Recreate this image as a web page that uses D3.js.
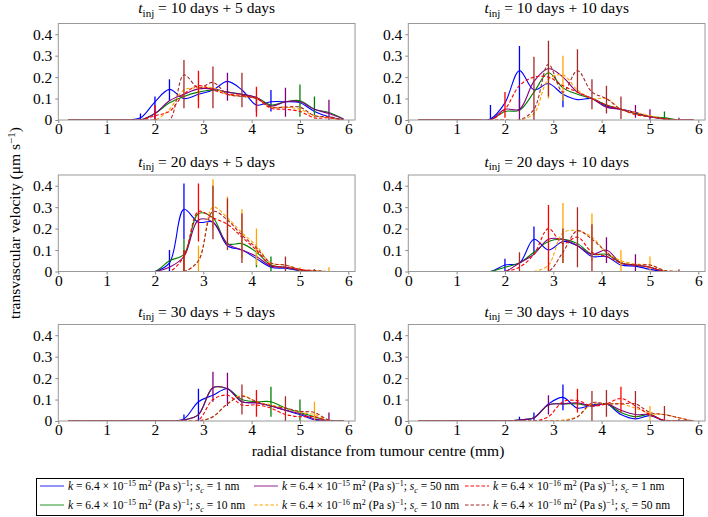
<!DOCTYPE html>
<html>
<head>
<meta charset="utf-8">
<script src="https://cdn.jsdelivr.net/npm/d3@7"></script>
<style>
  html, body { margin: 0; padding: 0; background: #fff; }
  svg { display: block; }
  text { font-family: "Liberation Serif", "Times New Roman", serif; fill: #000; }
</style>
</head>
<body>
<svg id="chart" width="708" height="517"></svg>
<script>
// ---------------- DATA ----------------
const xGrid = [0.2,0.5,0.8,1.1,1.4,1.7,2.0,2.3,2.6,2.9,3.2,3.5,3.8,4.1,4.4,4.7,5.0,5.3,5.6,5.9];
const xTicks = [0,1,2,3,4,5,6];
const yTicks = [0,0.1,0.2,0.3,0.4];
const yTickLabels = ["0","0.1","0.2","0.3","0.4"];

const seriesColors = ["#0000ff","#008000","#800080","#ffa500","#ff0000","#a52a2a"];
const seriesDashed = [false,false,false,true,true,true];
const seriesK = ["−15","−15","−15","−16","−16","−16"];
const seriesSc = ["1 nm","10 nm","50 nm","10 nm","1 nm","50 nm"];

const panelTitles = [
  ["10 days + 5 days","10 days + 10 days"],
  ["20 days + 5 days","20 days + 10 days"],
  ["30 days + 5 days","30 days + 10 days"]
];

// series order: blue, green, purple, orange(dash), red(dash), brown(dash)
const v10_5 = [
  [0,0,0,0,0,0.01,0.085,0.143,0.10,0.12,0.14,0.18,0.14,0.07,0.085,0.085,0.08,0.04,0.015,0],
  [0,0,0,0,0,0,0.03,0.08,0.11,0.13,0.14,0.13,0.12,0.105,0.07,0.085,0.09,0.05,0.035,0.005],
  [0,0,0,0,0,0,0.03,0.09,0.12,0.145,0.145,0.13,0.12,0.105,0.065,0.085,0.085,0.05,0.03,0.005],
  [0,0,0,0,0,0,0,0.05,0.14,0.15,0.15,0.12,0.11,0.1,0.06,0.06,0.05,0.02,0.01,0],
  [0,0,0,0,0,0,0.02,0.04,0.12,0.16,0.14,0.12,0.115,0.1,0.055,0.05,0.04,0.01,0.01,0],
  [0,0,0,0,0,0,0,0,0.21,0.15,0.175,0.12,0.11,0.1,0.06,0.06,0.06,0.02,0.015,0]
];
const v10_10 = [
  [0,0,0,0,0,0.005,0.08,0.23,0.14,0.17,0.12,0.095,0.1,0.065,0.05,0.035,0.015,0.005,0,0],
  [0,0,0,0,0,0,0.04,0.045,0.13,0.22,0.15,0.12,0.1,0.07,0.05,0.03,0.015,0.01,0,0],
  [0,0,0,0,0,0,0.05,0.05,0.18,0.24,0.2,0.13,0.1,0.06,0.05,0.035,0.015,0.005,0,0],
  [0,0,0,0,0,0,0,0,0.03,0.19,0.21,0.14,0.1,0.1,0.05,0.035,0.02,0.005,0,0],
  [0,0,0,0,0,0,0.05,0.16,0.2,0.2,0.16,0.13,0.1,0.07,0.05,0.025,0.015,0.005,0,0],
  [0,0,0,0,0,0,0,0,0.05,0.26,0.13,0.23,0.13,0.1,0.05,0.03,0.015,0.005,0,0]
];
const v20_5 = [
  [0,0,0,0,0,0,0,0.04,0.29,0.23,0.23,0.12,0.1,0.06,0.02,0.015,0.005,0,0,0],
  [0,0,0,0,0,0,0,0.05,0.08,0.27,0.25,0.13,0.13,0.09,0.03,0.02,0.005,0,0,0],
  [0,0,0,0,0,0,0,0.02,0.07,0.24,0.23,0.13,0.1,0.07,0.025,0.02,0.005,0,0,0],
  [0,0,0,0,0,0,0,0,0,0.05,0.3,0.25,0.18,0.12,0.04,0.03,0.01,0.005,0,0],
  [0,0,0,0,0,0,0,0,0.07,0.28,0.25,0.22,0.16,0.1,0.03,0.02,0.01,0,0,0],
  [0,0,0,0,0,0,0,0,0,0.05,0.28,0.24,0.17,0.11,0.04,0.03,0.01,0.005,0,0]
];
const v20_10 = [
  [0,0,0,0,0,0,0.03,0.04,0.15,0.1,0.14,0.12,0.07,0.07,0.03,0.025,0.01,0,0,0],
  [0,0,0,0,0,0,0.02,0.04,0.09,0.14,0.15,0.13,0.08,0.08,0.04,0.03,0.02,0,0,0],
  [0,0,0,0,0,0,0,0.04,0.08,0.15,0.15,0.12,0.08,0.1,0.04,0.03,0.02,0,0,0],
  [0,0,0,0,0,0,0,0,0,0.03,0.18,0.19,0.16,0.09,0.05,0.035,0.03,0.005,0,0],
  [0,0,0,0,0,0,0,0.02,0.08,0.2,0.13,0.16,0.09,0.07,0.04,0.03,0.02,0,0,0],
  [0,0,0,0,0,0,0,0,0,0,0.09,0.19,0.15,0.09,0.04,0.03,0.03,0.005,0,0]
];
const v30_5 = [
  [0,0,0,0,0,0,0,0,0.01,0.09,0.12,0.15,0.09,0.085,0.07,0.05,0.03,0.005,0,0],
  [0,0,0,0,0,0,0,0,0.005,0.03,0.155,0.15,0.1,0.09,0.09,0.06,0.04,0.02,0,0],
  [0,0,0,0,0,0,0,0,0.005,0.03,0.155,0.15,0.09,0.085,0.07,0.05,0.035,0.01,0,0],
  [0,0,0,0,0,0,0,0,0,0,0.02,0.08,0.12,0.09,0.075,0.06,0.04,0.03,0.005,0],
  [0,0,0,0,0,0,0,0,0,0.005,0.1,0.12,0.075,0.075,0.06,0.03,0.02,0.02,0,0],
  [0,0,0,0,0,0,0,0,0,0,0.02,0.08,0.115,0.09,0.07,0.06,0.045,0.04,0.005,0]
];
const v30_10 = [
  [0,0,0,0,0,0,0,0.005,0.015,0.08,0.11,0.06,0.075,0.08,0.03,0.01,0.025,0,0,0],
  [0,0,0,0,0,0,0,0.005,0.015,0.075,0.08,0.08,0.07,0.08,0.04,0.02,0.03,0,0,0],
  [0,0,0,0,0,0,0,0.005,0.015,0.075,0.08,0.085,0.07,0.08,0.05,0.03,0.03,0,0,0],
  [0,0,0,0,0,0,0,0,0,0,0.005,0.02,0.08,0.08,0.08,0.06,0.035,0.03,0.015,0],
  [0,0,0,0,0,0,0,0,0,0.02,0.09,0.095,0.07,0.08,0.105,0.07,0.03,0.005,0,0],
  [0,0,0,0,0,0,0,0,0,0,0,0.02,0.085,0.08,0.08,0.08,0.04,0.03,0.015,0]
];

// error bars: [series index, x, low, high]
const e10_5 = [
  [0,1.7,0,0.03],[0,2.0,0,0.11],[4,2.0,0,0.07],[0,2.3,0.09,0.19],[5,2.6,0.055,0.28],
  [3,2.9,0.09,0.16],[4,2.9,0.055,0.23],[5,3.2,0.055,0.25],[2,3.5,0.09,0.22],[5,3.8,0.06,0.22],
  [0,4.1,0.04,0.1],[4,4.1,0.015,0.155],[0,4.4,0.04,0.14],[2,4.7,0.015,0.15],[1,5.0,0.015,0.165],
  [1,5.3,0.015,0.11],[2,5.6,0,0.095]
];
const e10_10 = [
  [0,1.7,0,0.07],[4,2.0,0.01,0.13],[0,2.3,0.055,0.345],[2,2.3,0,0.1],[5,2.6,0,0.295],
  [3,2.9,0.1,0.25],[5,2.9,0.11,0.37],[0,3.2,0.06,0.12],[3,3.2,0.09,0.3],[5,3.5,0.13,0.33],
  [5,3.8,0.05,0.19],[5,4.1,0.03,0.16],[5,4.4,0.005,0.11],[2,4.7,0.01,0.07],[2,5.0,0,0.05],
  [1,5.3,0,0.04],[2,5.6,0,0.01]
];
const e20_5 = [
  [0,2.3,0,0.1],[0,2.6,0.15,0.41],[1,2.6,0,0.15],[4,2.6,0,0.1],[3,2.9,0,0.12],[4,2.9,0.14,0.41],
  [3,3.2,0.2,0.43],[5,3.2,0.15,0.4],[3,3.5,0.12,0.35],[5,3.5,0.1,0.34],[3,3.8,0.06,0.29],
  [5,3.8,0.04,0.27],[3,4.1,0.03,0.2],[1,4.1,0.02,0.12],[1,4.4,0,0.07],[5,4.7,0,0.07],
  [3,5.0,0,0.02],[2,5.3,0,0.01],[3,5.6,0,0.02]
];
const e20_10 = [
  [0,2.0,0,0.06],[5,2.3,0,0.09],[0,2.6,0.08,0.21],[3,2.9,0,0.03],[4,2.9,0,0.31],
  [3,3.2,0.04,0.32],[5,3.2,0.04,0.2],[5,3.5,0.02,0.3],[3,3.8,0.05,0.27],[5,3.8,0,0.22],
  [2,4.1,0.04,0.16],[3,4.4,0,0.1],[2,4.7,0,0.08],[3,5.0,0,0.07],[5,5.6,0,0.01]
];
const e30_5 = [
  [0,2.6,0,0.03],[0,2.9,0,0.15],[2,3.2,0.09,0.23],[2,3.5,0.07,0.225],[5,3.8,0.03,0.17],
  [4,4.1,0.02,0.145],[1,4.4,0.02,0.16],[5,4.7,0,0.115],[1,5.0,0,0.1],[3,5.3,0,0.09],[2,5.6,0,0.04]
];
const e30_10 = [
  [0,2.3,0,0.02],[0,2.6,0,0.04],[2,2.9,0.03,0.12],[0,3.2,0.05,0.17],[4,3.5,0.04,0.15],
  [5,3.8,0,0.14],[5,4.1,0.02,0.145],[4,4.4,0.04,0.16],[5,4.7,0.01,0.14],[3,5.0,0,0.07],
  [5,5.3,0,0.07],[5,5.6,0,0.01]
];

const panelValues = [[v10_5, v10_10],[v20_5, v20_10],[v30_5, v30_10]];
const panelErrors = [[e10_5, e10_10],[e20_5, e20_10],[e30_5, e30_10]];

// ---------------- LAYOUT ----------------
const svg = d3.select("#chart");
const colX0 = [58.3, 408.3];      // pixel position of x = 0
const pxPerMm = 48.33;
const boxRightExtra = 0.14;        // domain beyond 6
const rowBottom = [120, 271.5, 421];
const titleBase = [13, 166.5, 316.5];
const plotH = 96.5;
const FS = 15.5;
const FONT = "'Liberation Serif', 'Times New Roman', serif";

const lineGen = (x, y) => d3.line()
  .x((d, i) => x(xGrid[i]))
  .y(d => y(d))
  .curve(d3.curveCatmullRom.alpha(0.5));

let clipId = 0;
for (let r = 0; r < 3; r++) {
  for (let c = 0; c < 2; c++) {
    const x = d3.scaleLinear().domain([0, 6 + boxRightExtra]).range([colX0[c], colX0[c] + pxPerMm * (6 + boxRightExtra)]);
    const y = d3.scaleLinear().domain([0, 0.45]).range([rowBottom[r], rowBottom[r] - plotH]);
    const g = svg.append("g");
    const x0 = x(0), x1 = x(6 + boxRightExtra), y0 = y(0), y1 = y(0.45);

    const id = "clip" + (clipId++);
    g.append("clipPath").attr("id", id).append("rect")
      .attr("x", x0).attr("y", y1).attr("width", x1 - x0).attr("height", y0 - y1);

    // x axis
    const xa = g.append("g").attr("transform", `translate(0,${y0})`)
      .call(d3.axisBottom(x).tickValues(xTicks).tickSize(3).tickPadding(0).tickFormat(d3.format("d")));
    xa.select(".domain").remove();
    xa.selectAll("line").attr("stroke", "#888");
    xa.selectAll("text").style("font-size", FS + "px").style("font-family", FONT).attr("fill", "#000");

    // y axis
    const ya = g.append("g").attr("transform", `translate(${x0},0)`)
      .call(d3.axisLeft(y).tickValues(yTicks).tickSize(3).tickPadding(3).tickFormat((d, i) => yTickLabels[i]));
    ya.select(".domain").remove();
    ya.selectAll("line").attr("stroke", "#888");
    ya.selectAll("text").style("font-size", FS + "px").style("font-family", FONT).attr("fill", "#000");

    // plot contents
    const plot = g.append("g").attr("clip-path", `url(#${id})`);
    const vals = panelValues[r][c];
    const errs = panelErrors[r][c];
    for (let s = 0; s < 6; s++) {
      plot.append("g").selectAll("line")
        .data(errs.filter(e => e[0] === s))
        .join("line")
        .attr("x1", d => x(d[1])).attr("x2", d => x(d[1]))
        .attr("y1", d => y(d[2])).attr("y2", d => y(d[3]))
        .attr("stroke", seriesColors[s]).attr("stroke-width", 1.3);
      plot.append("path")
        .datum(vals[s])
        .attr("d", lineGen(x, y))
        .attr("fill", "none")
        .attr("stroke", seriesColors[s])
        .attr("stroke-width", 1.1)
        .attr("stroke-dasharray", seriesDashed[s] ? "3.5,2" : null);
    }

    // frame
    g.append("rect").attr("x", x0).attr("y", y1).attr("width", x1 - x0).attr("height", y0 - y1)
      .attr("fill", "none").attr("stroke", "#999").attr("stroke-width", 1);

    // title
    const t = g.append("text").attr("x", (x0 + x1) / 2).attr("y", titleBase[r])
      .attr("text-anchor", "middle").style("font-size", FS + "px").style("font-family", FONT);
    t.append("tspan").style("font-style", "italic").text("t");
    t.append("tspan").attr("dy", 3.5).style("font-size", "11px").text("inj");
    t.append("tspan").attr("dy", -3.5).text(" = " + panelTitles[r][c]);
  }
}

// axis labels
svg.append("text").attr("x", 378).attr("y", 456).attr("text-anchor", "middle")
  .style("font-size", FS + "px").style("font-family", FONT).text("radial distance from tumour centre (mm)");

const yl = svg.append("text").attr("transform", "translate(20,223) rotate(-90)")
  .attr("text-anchor", "middle").style("font-size", FS + "px").style("font-family", FONT);
yl.append("tspan").text("transvascular velocity (μm s");
yl.append("tspan").attr("dy", -5).style("font-size", "11px").text("−1");
yl.append("tspan").attr("dy", 5).text(")");

// ---------------- LEGEND ----------------
svg.append("rect").attr("x", 36.5).attr("y", 478.5).attr("width", 647).attr("height", 37)
  .attr("fill", "#fff").attr("stroke", "#000").attr("stroke-width", 1);

const legCols = [40, 254, 465];
const legRows = [490, 509];
const LFS = 11.5;
for (let s = 0; s < 6; s++) {
  const col = Math.floor(s / 2), row = s % 2;
  const lx = legCols[col], ly = legRows[row];
  svg.append("line").attr("x1", lx).attr("x2", lx + 24).attr("y1", ly - 4).attr("y2", ly - 4)
    .attr("stroke", seriesColors[s]).attr("stroke-width", 1.3).attr("opacity", 0.65)
    .attr("stroke-dasharray", seriesDashed[s] ? "3.5,2" : null);
  const t = svg.append("text").attr("x", lx + 28).attr("y", ly).style("font-size", LFS + "px").style("font-family", FONT);
  t.append("tspan").style("font-style", "italic").text("k");
  t.append("tspan").text(" = 6.4 × 10");
  t.append("tspan").attr("dy", -4).style("font-size", "8px").text(seriesK[s]);
  t.append("tspan").attr("dy", 4).text(" m");
  t.append("tspan").attr("dy", -4).style("font-size", "8px").text("2");
  t.append("tspan").attr("dy", 4).text(" (Pa s)");
  t.append("tspan").attr("dy", -4).style("font-size", "8px").text("−1");
  t.append("tspan").attr("dy", 4).text("; ");
  t.append("tspan").style("font-style", "italic").text("s");
  t.append("tspan").attr("dy", 2.5).style("font-size", "8px").style("font-style", "italic").text("c");
  t.append("tspan").attr("dy", -2.5).text(" = " + seriesSc[s]);
}
</script>
</body>
</html>
